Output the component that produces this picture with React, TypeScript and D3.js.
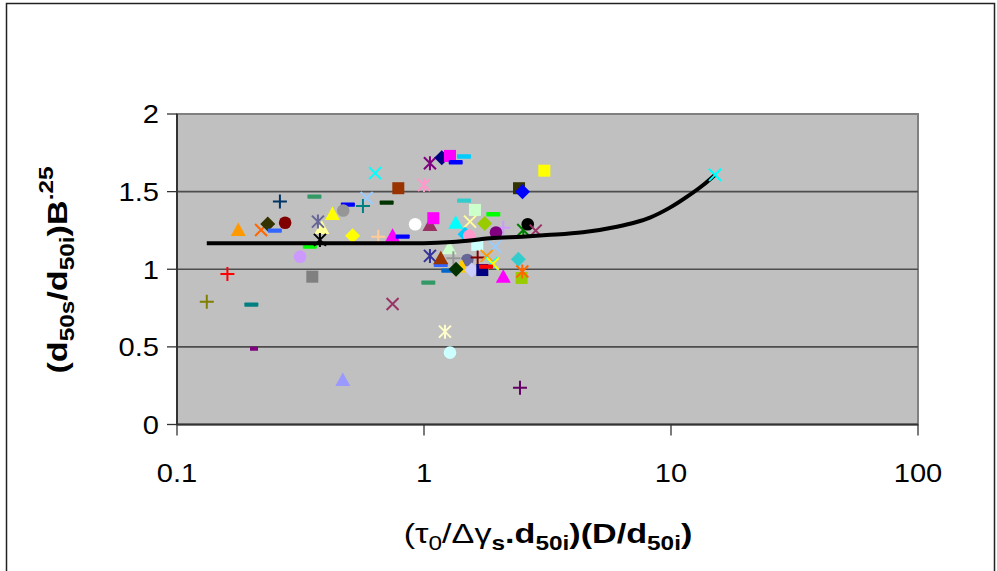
import React from "react";
import * as d3 from "d3";

// ---- data ----
const xTicks = [0.1, 1, 10, 100];
const xTickLabels = ["0.1", "1", "10", "100"];
const yTicks = [0, 0.5, 1, 1.5, 2];
const yTickLabels = ["0", "0.5", "1", "1.5", "2"];

const curveX = [0.132, 0.5, 1.0, 1.3, 1.63, 1.85, 2.5, 3.14, 4.4, 6.04, 7.2, 8.22, 9.9, 11.9, 13.5, 15.07];
const curveY = [1.168, 1.168, 1.168, 1.175, 1.19, 1.2, 1.21, 1.22, 1.238, 1.274, 1.303, 1.333, 1.397, 1.479, 1.543, 1.608];

// measured points, [x, y]
const seriesPoints: [number, number][] = [
  [0.261, 1.436], [0.36, 1.468], [0.492, 1.416], [0.586, 1.459], [0.566, 1.408],
  [0.177, 1.253], [0.219, 1.253], [0.233, 1.292], [0.249, 1.249], [0.274, 1.3],
  [0.386, 1.266], [0.372, 1.307], [0.426, 1.356], [0.471, 1.378], [0.514, 1.216],
  [0.345, 1.146], [0.379, 1.189], [0.315, 1.081], [0.16, 0.97], [0.353, 0.952],
  [0.132, 0.791], [0.2, 0.772], [0.205, 0.488], [0.469, 0.287], [1.041, 0.914],
  [0.746, 0.776], [1.216, 0.598], [1.274, 0.463], [2.447, 0.237], [1.057, 1.683],
  [1.18, 1.719], [1.274, 1.73], [1.452, 1.726], [1.344, 1.689], [0.634, 1.619],
  [0.787, 1.522], [1.0, 1.543], [3.07, 1.635], [2.425, 1.522], [2.505, 1.5],
  [0.706, 1.429], [1.452, 1.442], [1.608, 1.382], [1.908, 1.354], [0.921, 1.29],
  [1.057, 1.285], [1.091, 1.329], [1.344, 1.3], [1.536, 1.307], [1.761, 1.294],
  [2.094, 1.268], [1.956, 1.237], [2.523, 1.253], [2.63, 1.29], [2.833, 1.249],
  [0.653, 1.21], [0.746, 1.215], [0.82, 1.21], [1.466, 1.226], [1.525, 1.215],
  [1.643, 1.157], [1.938, 1.146], [1.265, 1.135], [1.057, 1.086], [1.169, 1.028],
  [1.169, 1.071], [1.315, 1.071], [1.497, 1.06], [1.649, 1.075], [1.794, 1.086],
  [1.879, 1.039], [1.9, 1.035], [1.421, 1.017], [1.254, 0.991], [1.348, 1.0],
  [1.56, 0.995], [1.722, 0.995], [1.782, 1.017], [2.094, 0.952], [2.41, 1.064],
  [2.483, 0.944], [2.5, 0.985], [15.07, 1.608],
];

// ---- marker styles (same order as seriesPoints) ----
const markerStyles: [string, string][] = [
  ["plus", "#003366"], ["dash", "#339966"], ["dash", "#0000FF"], ["x", "#99CCFF"], ["plus", "#008080"],
  ["triangle", "#FF9900"], ["x", "#FF6600"], ["diamond", "#333300"], ["dash", "#3366FF"], ["circle", "#800000"],
  ["triangle", "#FFFF99"], ["asterisk", "#666699"], ["triangle", "#FFFF00"], ["circle", "#969696"], ["diamond", "#FFFF00"],
  ["dash", "#00FF00"], ["asterisk", "#000000"], ["circle", "#CC99FF"], ["plus", "#FF0000"], ["square", "#808080"],
  ["plus", "#808000"], ["dash", "#008080"], ["dashS", "#800080"], ["triangle", "#9999FF"], ["dash", "#339966"],
  ["x", "#993366"], ["asterisk", "#FFFFCC"], ["circle", "#CCFFFF"], ["plus", "#660066"], ["asterisk", "#800080"],
  ["diamond", "#000080"], ["square", "#FF00FF"], ["dash", "#00CCFF"], ["dash", "#0000FF"], ["x", "#00FFFF"],
  ["square", "#993300"], ["asterisk", "#FF99CC"], ["square", "#FFFF00"], ["square", "#333300"], ["diamond", "#0000FF"],
  ["dash", "#003300"], ["dash", "#33CCCC"], ["square", "#CCFFCC"], ["dash", "#00FF00"], ["circle", "#FFFFFF"],
  ["triangle", "#993366"], ["square", "#FF00FF"], ["triangle", "#00FFFF"], ["x", "#FFFF99"], ["diamond", "#99CC00"],
  ["plus", "#CC99FF"], ["circle", "#800080"], ["asterisk", "#008000"], ["circle", "#000000"], ["x", "#993366"],
  ["plus", "#FFCC99"], ["triangle", "#FF00FF"], ["dash", "#0000FF"], ["diamond", "#00CCFF"], ["circle", "#FF99CC"],
  ["square", "#CCFFFF"], ["x", "#99CCFF"], ["triangle", "#CCFFCC"], ["asterisk", "#333399"], ["dash", "#3366FF"],
  ["triangle", "#993300"], ["plus", "#969696"], ["circle", "#666699"], ["plus", "#800000"], ["x", "#FF9900"],
  ["x", "#00FFFF"], ["x", "#FFFF00"], ["triangle", "#FFCC00"], ["dash", "#0066CC"], ["diamond", "#003300"],
  ["diamond", "#CCCCFF"], ["square", "#000080"], ["dash", "#FF0000"], ["triangle", "#FF00FF"], ["diamond", "#33CCCC"],
  ["square", "#99CC00"], ["asterisk", "#FF6600"], ["x", "#00FFFF"],
];

const W = 997;
const H = 571;
const PL = 177, PR = 918, PT = 114, PB = 424.5;
const SX = 1.22; // horizontal text stretch seen in the reference
const SX_TICK = 1.12;

const FONT = "'Liberation Sans', Arial, sans-serif";

function Marker({ shape, color }: { shape: string; color: string }) {
  switch (shape) {
    case "square":
      return <rect x={-6} y={-6} width={12} height={12} fill={color} />;
    case "diamond":
      return <path d="M0,-7.5L7.5,0L0,7.5L-7.5,0Z" fill={color} />;
    case "triangle":
      return <path d="M0,-7.5L7.5,6L-7.5,6Z" fill={color} />;
    case "circle":
      return <circle r={6.3} fill={color} />;
    case "dash":
      return <rect x={-7} y={-2.2} width={14} height={4.4} rx={0.8} fill={color} />;
    case "dashS":
      return <rect x={-4} y={-2} width={8} height={4} fill={color} />;
    case "x":
      return <path d="M-6,-6L6,6M-6,6L6,-6" stroke={color} strokeWidth={2} fill="none" />;
    case "plus":
      return <path d="M-7,0L7,0M0,-7L0,7" stroke={color} strokeWidth={2} fill="none" />;
    case "asterisk":
      return <path d="M-6,-6L6,6M-6,6L6,-6M0,-7L0,7" stroke={color} strokeWidth={2} fill="none" />;
    default:
      return null;
  }
}

export default function App() {
  const x = d3.scaleLog().domain([0.1, 100]).range([PL, PR]);
  const y = d3.scaleLinear().domain([0, 2]).range([PB, PT]);

  const curveData = curveX.map((cx, i) => [cx, curveY[i]] as [number, number]);
  const line = d3
    .line<[number, number]>()
    .x((d) => x(d[0]))
    .y((d) => y(d[1]))
    .curve(d3.curveMonotoneX);

  return (
    <svg
      width={W}
      height={H}
      style={{ position: "absolute", left: 0, top: 0, background: "#fff" }}
      fontFamily={FONT}
    >
      <rect x={6.5} y={3.5} width={988} height={570} fill="#fff" stroke="#222" strokeWidth={1.5} />

      {/* plot area */}
      <rect x={PL} y={PT} width={PR - PL} height={PB - PT} fill="#C0C0C0" stroke="#808080" strokeWidth={2} />

      {/* gridlines */}
      {yTicks
        .filter((t) => t > 0 && t < 2)
        .map((t) => (
          <line key={"g" + t} x1={PL} x2={PR} y1={y(t)} y2={y(t)} stroke="#4d4d4d" strokeWidth={1.6} />
        ))}

      {/* axes */}
      <line x1={PL} x2={PL} y1={PT} y2={PB} stroke="#333" strokeWidth={2} />
      <line x1={PL} x2={PR} y1={PB} y2={PB} stroke="#333" strokeWidth={2} />

      {yTicks.map((t, i) => (
        <g key={"yt" + t}>
          <line x1={PL - 10} x2={PL} y1={y(t)} y2={y(t)} stroke="#333" strokeWidth={1.3} />
          <text
            transform={`translate(159,${y(t)}) scale(${SX_TICK},1)`}
            dy="0.36em"
            textAnchor="end"
            fontSize={26}
            fill="#000"
          >
            {yTickLabels[i]}
          </text>
        </g>
      ))}
      {xTicks.map((t, i) => (
        <g key={"xt" + t}>
          <line x1={x(t)} x2={x(t)} y1={PB} y2={PB + 11} stroke="#333" strokeWidth={1.3} />
          <text
            transform={`translate(${x(t)},482) scale(${SX_TICK},1)`}
            textAnchor="middle"
            fontSize={26}
            fill="#000"
          >
            {xTickLabels[i]}
          </text>
        </g>
      ))}

      {/* markers */}
      {seriesPoints.map((p, i) => (
        <g key={"m" + i} transform={`translate(${x(p[0])},${y(p[1])})`}>
          <Marker shape={markerStyles[i][0]} color={markerStyles[i][1]} />
        </g>
      ))}

      {/* curve */}
      <path d={line(curveData) || ""} fill="none" stroke="#000" strokeWidth={4} strokeLinejoin="round" />
      <g transform={`translate(${x(15.07)},${y(1.608)})`}>
        <Marker shape="x" color="#00FFFF" />
      </g>

      {/* x axis title */}
      <text
        transform={`translate(548,543) scale(${SX},1)`}
        textAnchor="middle"
        fontSize={28}
        fontWeight="bold"
        fill="#000"
      >
        <tspan fontWeight="normal">(τ</tspan>
        <tspan fontWeight="normal" fontSize={20} dy={7}>0</tspan>
        <tspan fontWeight="normal" dy={-7}>/Δγ</tspan>
        <tspan fontSize={20} dy={7}>s</tspan>
        <tspan dy={-7}>.d</tspan>
        <tspan fontSize={20} dy={7}>50i</tspan>
        <tspan dy={-7}>)(D/d</tspan>
        <tspan fontSize={20} dy={7}>50i</tspan>
        <tspan dy={-7}>)</tspan>
      </text>

      {/* y axis title */}
      <text
        transform={`translate(67,270) rotate(-90) scale(${SX},1)`}
        textAnchor="middle"
        fontSize={28}
        fontWeight="bold"
        fill="#000"
      >
        <tspan>(d</tspan>
        <tspan fontSize={20} dy={7}>50s</tspan>
        <tspan dy={-7}>/d</tspan>
        <tspan fontSize={20} dy={7}>50i</tspan>
        <tspan dy={-7}>)B</tspan>
        <tspan fontSize={20} dy={-14}>.25</tspan>
      </text>
    </svg>
  );
}
